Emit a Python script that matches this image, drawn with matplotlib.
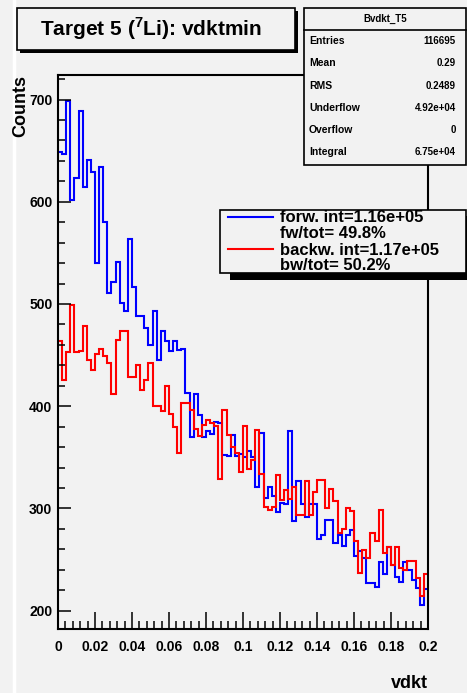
import matplotlib
matplotlib.use("Agg")
import matplotlib.pyplot as plt
import numpy as np
from matplotlib.patches import Rectangle
from matplotlib.lines import Line2D
from matplotlib.ticker import MultipleLocator

W, H = 467, 693
bg = '#f2f2f2'

# bin contents, 90 bins between 0 and 0.2
x_lo, x_hi = 0.0, 0.2
forw = [649, 647, 699, 602, 623, 689, 614, 641, 629, 540,
        634, 580, 511, 521, 541, 501, 493, 564, 517, 488,
        488, 476, 460, 493, 445, 474, 464, 454, 464, 455,
        456, 413, 370, 412, 391, 370, 376, 373, 385, 384,
        352, 351, 372, 351, 353, 350, 356, 350, 321, 374,
        310, 321, 312, 296, 305, 304, 376, 288, 327, 304,
        292, 304, 304, 270, 274, 289, 289, 266, 274, 263,
        274, 279, 253, 258, 251, 227, 227, 223, 248, 236,
        262, 245, 233, 228, 248, 240, 230, 222, 205, 221]
backw = [464, 426, 453, 499, 453, 454, 478, 445, 435, 451,
         456, 449, 442, 412, 465, 474, 474, 429, 429, 440,
         416, 426, 442, 400, 400, 395, 420, 392, 380, 354,
         403, 403, 396, 378, 371, 382, 386, 384, 381, 329,
         396, 372, 360, 354, 336, 381, 339, 347, 377, 334,
         301, 298, 301, 333, 308, 318, 309, 321, 294, 294,
         327, 294, 316, 328, 328, 300, 319, 307, 276, 280,
         300, 297, 268, 237, 259, 251, 276, 268, 298, 256,
         262, 245, 262, 242, 240, 249, 249, 232, 214, 236]

xticks = [0, 0.02, 0.04, 0.06, 0.08, 0.1, 0.12, 0.14, 0.16, 0.18, 0.2]
xtick_labels = ['0', '0.02', '0.04', '0.06', '0.08', '0.1', '0.12', '0.14', '0.16', '0.18', '0.2']
yticks = [200, 300, 400, 500, 600, 700]

stat_title = 'Bvdkt_T5'
stat_names = ['Entries', 'Mean', 'RMS', 'Underflow', 'Overflow', 'Integral']
stat_values = ['116695', '0.29', '0.2489', '4.92e+04', '0', '6.75e+04']
leg_text = ['forw. int=1.16e+05', 'fw/tot= 49.8%', 'backw. int=1.17e+05', 'bw/tot= 50.2%']


def fx(px):
    return px / W


def fy(py):
    return 1 - py / H


def box(x0, y0, x1, y1, **kw):
    # rectangle given in pixel corners (top-left origin)
    r = Rectangle((fx(x0), fy(y1)), (x1 - x0) / W, (y1 - y0) / H,
                  transform=fig.transFigure, **kw)
    fig.add_artist(r)
    return r


plt.rcParams['font.family'] = ['Liberation Sans', 'DejaVu Sans']
plt.rcParams['mathtext.fontset'] = 'custom'
plt.rcParams['mathtext.rm'] = 'Liberation Sans'
plt.rcParams['mathtext.bf'] = 'Liberation Sans:bold'

fig = plt.figure(figsize=(W / 100, H / 100), dpi=100, facecolor=bg)

# white strip on the left of the canvas
fig.add_artist(Line2D([fx(14), fx(14)], [0, 1], transform=fig.transFigure,
                      color='white', lw=2.5))

ax = fig.add_axes([fx(58), fy(629), (428 - 58) / W, (629 - 75) / H], facecolor=bg)
edges = np.linspace(x_lo, x_hi, len(forw) + 1)
ax.stairs(forw, edges, baseline=None, color='#0000ff', lw=1.5)
ax.stairs(backw, edges, baseline=None, color='#ff0000', lw=1.5)

ax.set_xlim(x_lo, x_hi)
ax.set_ylim(182, 724)
ax.set_xticks(xticks)
ax.set_xticklabels(xtick_labels)
ax.set_yticks(yticks)
ax.xaxis.set_minor_locator(MultipleLocator(0.004))
ax.yaxis.set_minor_locator(MultipleLocator(20))
ax.tick_params(axis='x', which='major', direction='in', length=12, width=1.1,
               pad=8, labelsize=10)
ax.tick_params(axis='x', which='minor', direction='in', length=6, width=1.1)
ax.tick_params(axis='y', which='major', direction='in', length=9, width=1.1,
               pad=4, labelsize=10)
ax.tick_params(axis='y', which='minor', direction='in', length=5, width=1.1)
for lab in ax.get_xticklabels() + ax.get_yticklabels():
    lab.set_fontweight('bold')
for sp in ax.spines.values():
    sp.set_linewidth(1.5)

fig.text(fx(21), fy(75), 'Counts', rotation=90, ha='center', va='top',
         fontsize=13, fontweight='bold')
fig.text(fx(428), fy(683), 'vdkt', ha='right', va='center',
         fontsize=13, fontweight='bold')

# title box with shadow
box(20, 11, 298, 53, fc='black', ec='none', zorder=5)
box(17, 8, 295, 50, fc=bg, ec='black', lw=1.2, zorder=6)
fig.text(fx(151), fy(29), r'Target 5 ($^{\mathbf{7}}$Li): vdktmin', ha='center',
         va='center', fontsize=15, fontweight='bold', zorder=7)

# stats box
box(304, 8, 466, 165, fc=bg, ec='black', lw=1.2, zorder=5)
fig.add_artist(Line2D([fx(304), fx(466)], [fy(30), fy(30)], transform=fig.transFigure,
                      color='black', lw=1.2, zorder=6))
fig.text(fx(385), fy(19), stat_title, ha='center', va='center', fontsize=7,
         fontweight='bold', zorder=7)
row_y = [41, 63, 86, 108, 130, 152]
for name, val, yy in zip(stat_names, stat_values, row_y):
    fig.text(fx(309), fy(yy), name, ha='left', va='center', fontsize=7.5,
             fontweight='bold', zorder=7)
    fig.text(fx(456), fy(yy), val, ha='right', va='center', fontsize=7,
             fontweight='bold', zorder=7)

# legend box with shadow
box(230, 216, 467, 280, fc='black', ec='none', zorder=5)
box(220, 210, 466, 273, fc=bg, ec='black', lw=1.2, zorder=6)
for yy, col in zip([217, 249], ['#0000ff', '#ff0000']):
    fig.add_artist(Line2D([fx(228), fx(273)], [fy(yy), fy(yy)], transform=fig.transFigure,
                          color=col, lw=1.5, zorder=7))
for txt, yy in zip(leg_text, [218, 233, 250, 265]):
    fig.text(fx(280), fy(yy), txt, ha='left', va='center', fontsize=12,
             fontweight='bold', zorder=7)

fig.savefig('out.png', dpi=100, facecolor=bg)
